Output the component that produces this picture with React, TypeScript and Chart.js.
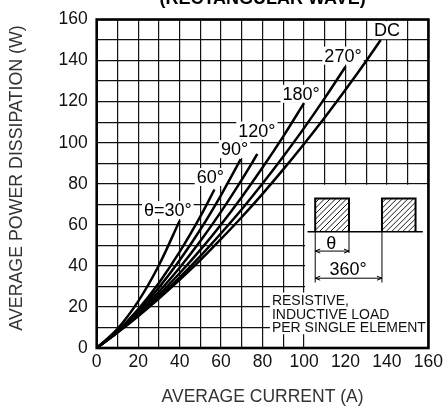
import React, { useEffect, useRef } from "react";
import { Chart, registerables } from "chart.js";

Chart.register(...registerables);

// ---- data ----
const currentDC = [0, 10, 20, 30, 40, 50, 60, 70, 80, 90, 100, 110, 120, 130, 137];
const powerDC = [0, 7.5, 15.5, 24.1, 33.2, 42.8, 53.1, 63.8, 75.1, 87.0, 99.4, 112.3, 125.8, 139.8, 150];
const current270 = [0, 10, 20, 30, 40, 50, 60, 70, 80, 90, 100, 110, 120];
const power270 = [0, 7.6, 15.8, 24.8, 34.4, 44.8, 55.9, 67.6, 80.1, 93.3, 107.1, 121.7, 137];
const current180 = [0, 10, 20, 30, 40, 50, 60, 70, 80, 90, 100];
const power180 = [0, 7.7, 16.3, 25.9, 36.4, 47.8, 60.2, 73.6, 87.9, 103.1, 119.3];
const current120 = [0, 10, 20, 30, 40, 50, 60, 70, 77.5];
const power120 = [0, 7.8, 17.0, 27.4, 39.1, 52.1, 66.4, 82.0, 94.5];
const current90 = [0, 10, 20, 30, 40, 50, 60, 69.5];
const power90 = [0, 8.1, 17.9, 29.4, 42.7, 57.7, 74.5, 92];
const current60 = [0, 10, 20, 30, 40, 50, 56.8];
const power60 = [0, 8.3, 18.9, 31.7, 46.8, 64.1, 77.2];
const current30 = [0, 10, 20, 30, 40];
const power30 = [0, 9.3, 22.7, 40.3, 62];

const curveNames = ["θ=30°", "60°", "90°", "120°", "180°", "270°", "DC"];
const curveCurrents = [current30, current60, current90, current120, current180, current270, currentDC];
const curvePowers = [power30, power60, power90, power120, power180, power270, powerDC];

const axisMin = 0;
const axisMax = 160;
const gridStep = 10;
const labelStep = 20;

const titleText = "(RECTANGULAR WAVE)";
const xTitle = "AVERAGE CURRENT (A)";
const yTitle = "AVERAGE POWER DISSIPATION (W)";
const noteLines = ["RESISTIVE,", "INDUCTIVE LOAD", "PER SINGLE ELEMENT"];

// ---- annotation placement (data units) ----
const curveLabelAnchors = [
  [34.3, 67.2],
  [54.8, 83.3],
  [66.5, 96.9],
  [77.3, 105.9],
  [98.6, 123.8],
  [118.8, 142.4],
  [140, 154.8],
];
const noteAnchorX = 84.5;
const noteAnchorY = [23.1, 16.6, 10.1];

const FONT = '"Liberation Sans", Arial, Helvetica, sans-serif';

const decorPlugin = {
  id: "decor",
  beforeDatasetsDraw(chart: any) {
    const { ctx, chartArea: ca, scales } = chart;
    const xs = scales.x;
    const ys = scales.y;
    const px = (v: number) => xs.getPixelForValue(v);
    const py = (v: number) => ys.getPixelForValue(v);
    ctx.save();
    // inset white box (x 100..160, y 0..80)
    const bx = px(100);
    const by = py(80);
    ctx.fillStyle = "#fff";
    ctx.fillRect(bx + 1, by + 1, ca.right - bx - 1, ca.bottom - by - 1);
    // curve label backgrounds
    ctx.font = `18px ${FONT}`;
    curveNames.forEach((name, i) => {
      const [lx, ly] = curveLabelAnchors[i];
      const w = ctx.measureText(name).width;
      const cx = px(lx);
      const cy = py(ly);
      ctx.fillRect(cx - w / 2 - 2, cy - 9, w + 4, 18);
    });
    // note block background
    const nx = px(noteAnchorX);
    const ny0 = py(noteAnchorY[0]) - 8;
    const ny1 = py(noteAnchorY[2]) + 7;
    ctx.fillRect(nx - 2, ny0, ca.right - nx, ny1 - ny0);
    ctx.restore();
  },
  afterDatasetsDraw(chart: any) {
    const { ctx, chartArea: ca, scales } = chart;
    const xs = scales.x;
    const ys = scales.y;
    const px = (v: number) => xs.getPixelForValue(v);
    const py = (v: number) => ys.getPixelForValue(v);
    ctx.save();

    // frame
    ctx.strokeStyle = "#000";
    ctx.lineWidth = 2.6;
    ctx.strokeRect(ca.left, ca.top, ca.right - ca.left, ca.bottom - ca.top);

    // curve labels
    ctx.fillStyle = "#000";
    ctx.font = `18px ${FONT}`;
    ctx.textAlign = "center";
    ctx.textBaseline = "middle";
    curveNames.forEach((name, i) => {
      const [lx, ly] = curveLabelAnchors[i];
      ctx.fillText(name, px(lx), py(ly) + 1);
    });

    // note text
    ctx.font = `14px ${FONT}`;
    ctx.textAlign = "left";
    ctx.fillStyle = "#111";
    noteLines.forEach((t, i) => ctx.fillText(t, px(noteAnchorX), py(noteAnchorY[i]) + 1));

    // waveform diagram
    const base = py(56.6);
    const top = py(72.8);
    const rects = [
      [105.4, 121.7],
      [137.6, 153.8],
    ];
    rects.forEach(([a, b]) => {
      const x0 = px(a);
      const x1 = px(b);
      ctx.save();
      ctx.beginPath();
      ctx.rect(x0, top, x1 - x0, base - top);
      ctx.clip();
      ctx.strokeStyle = "#000";
      ctx.lineWidth = 0.9;
      for (let s = -40; s < 80; s += 5.5) {
        ctx.beginPath();
        ctx.moveTo(x0 + s, base);
        ctx.lineTo(x0 + s + (base - top), top);
        ctx.stroke();
      }
      ctx.restore();
      ctx.lineWidth = 2;
      ctx.strokeStyle = "#000";
      ctx.beginPath();
      ctx.moveTo(x0, base);
      ctx.lineTo(x0, top);
      ctx.lineTo(x1, top);
      ctx.lineTo(x1, base);
      ctx.stroke();
    });
    ctx.lineWidth = 1.5;
    ctx.beginPath();
    ctx.moveTo(px(101.7), base);
    ctx.lineTo(px(157.3), base);
    ctx.stroke();

    // dimension lines
    const arrow = (xa: number, xb: number, yy: number) => {
      ctx.lineWidth = 1;
      ctx.beginPath();
      ctx.moveTo(xa, yy);
      ctx.lineTo(xb, yy);
      ctx.stroke();
      const h = 5;
      ctx.beginPath();
      ctx.moveTo(xa + h, yy - 2);
      ctx.lineTo(xa, yy);
      ctx.lineTo(xa + h, yy + 2);
      ctx.moveTo(xb - h, yy - 2);
      ctx.lineTo(xb, yy);
      ctx.lineTo(xb - h, yy + 2);
      ctx.stroke();
    };
    ctx.lineWidth = 1;
    const l1 = px(105.4);
    const l2 = px(121.7);
    const l3 = px(137.6);
    ctx.beginPath();
    ctx.moveTo(l1, base);
    ctx.lineTo(l1, py(31.9));
    ctx.moveTo(l2, base);
    ctx.lineTo(l2, py(46.3));
    ctx.moveTo(l3, base);
    ctx.lineTo(l3, py(31.9));
    ctx.stroke();
    arrow(l1, l2, py(47.2));
    arrow(l1, l3, py(34));
    ctx.font = `18px ${FONT}`;
    ctx.textAlign = "center";
    ctx.fillStyle = "#000";
    ctx.fillText("θ", px(113.2), py(51.2) + 1);
    ctx.fillText("360°", px(121.3), py(38.6) + 1);

    // axis titles
    ctx.fillStyle = "#333";
    ctx.font = `17.5px ${FONT}`;
    ctx.textAlign = "center";
    ctx.textBaseline = "middle";
    const midX = (ca.left + ca.right) / 2;
    ctx.fillText(xTitle, midX, 397.5);
    ctx.save();
    ctx.translate(17.5, 178);
    ctx.rotate(-Math.PI / 2);
    ctx.font = `17.8px ${FONT}`;
    ctx.fillText(yTitle, 0, 0);
    ctx.restore();

    // title (cut at the top)
    ctx.fillStyle = "#000";
    ctx.font = `bold 18px ${FONT}`;
    ctx.textBaseline = "alphabetic";
    ctx.fillText(titleText, midX, 4);

    ctx.restore();
  },
};

export default function App() {
  const ref = useRef<HTMLCanvasElement | null>(null);
  useEffect(() => {
    if (!ref.current) return;
    const tickCb = (v: any) => (Number(v) % labelStep === 0 ? String(v) : "");
    const chart = new Chart(ref.current, {
      type: "scatter",
      data: {
        datasets: curveNames.map((name, i) => ({
          label: name,
          data: curveCurrents[i].map((c, j) => ({ x: c, y: curvePowers[i][j] })),
          showLine: true,
          borderColor: "#000",
          borderWidth: 2.5,
          pointRadius: 0,
          cubicInterpolationMode: "monotone" as const,
          fill: false,
        })),
      },
      options: {
        animation: false,
        responsive: false,
        devicePixelRatio: 1,
        layout: { padding: { left: 0, top: 15.5, right: 16.3, bottom: 0 } },
        plugins: { legend: { display: false }, title: { display: false }, tooltip: { enabled: false } },
        scales: {
          x: {
            type: "linear",
            min: axisMin,
            max: axisMax,
            afterFit: (s: any) => {
              s.height = 63;
            },
            ticks: {
              stepSize: gridStep,
              autoSkip: false,
              maxRotation: 0,
              callback: tickCb,
              color: "#111",
              font: { family: FONT, size: 17.5 },
              padding: 4,
            },
            grid: { color: "#111", lineWidth: 1.2, drawTicks: false },
            border: { display: false },
          },
          y: {
            type: "linear",
            min: axisMin,
            max: axisMax,
            afterFit: (s: any) => {
              s.width = 96.7;
            },
            ticks: {
              stepSize: gridStep,
              autoSkip: false,
              callback: tickCb,
              color: "#111",
              font: { family: FONT, size: 17.5 },
              padding: 9,
            },
            grid: { color: "#111", lineWidth: 1.2, drawTicks: false },
            border: { display: false },
          },
        },
      },
      plugins: [decorPlugin],
    });
    return () => chart.destroy();
  }, []);
  return (
    <div style={{ position: "absolute", left: 0, top: 0, width: 447, height: 411, background: "#fff" }}>
      <canvas ref={ref} width={447} height={411} style={{ width: 447, height: 411 }} />
    </div>
  );
}
